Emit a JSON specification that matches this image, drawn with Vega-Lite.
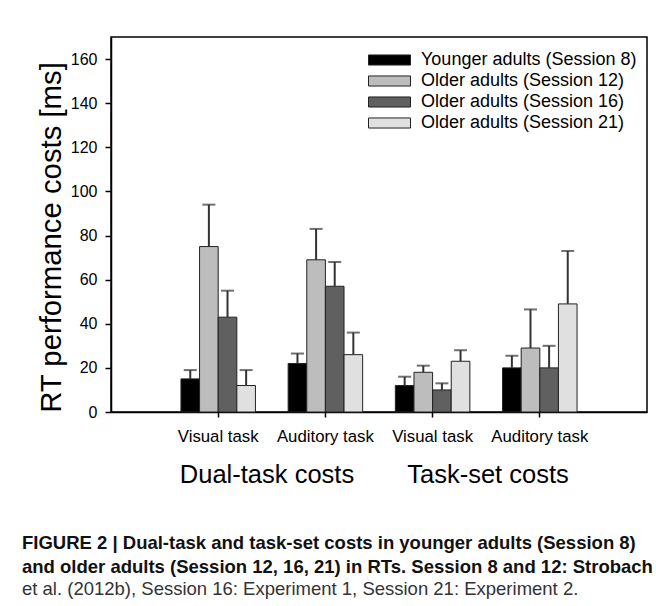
{
  "$schema": "https://vega.github.io/schema/vega-lite/v6.json",
  "width": 536,
  "height": 375,
  "autosize": {"type": "none"},
  "padding": {"left": 111, "top": 37, "right": 9, "bottom": 194},
  "background": "white",
  "config": {
    "font": "Liberation Sans",
    "view": {"stroke": "#000", "strokeWidth": 1.5},
    "axis": {"grid": false, "domainColor": "#000", "tickColor": "#000", "labelColor": "#000", "titleColor": "#000", "domainWidth": 1.5, "tickWidth": 1.5}
  },
  "title": {
    "text": ["FIGURE 2 | Dual-task and task-set costs in younger adults (Session 8)", "and older adults (Session 12, 16, 21) in RTs. Session 8 and 12: Strobach"],
    "subtitle": "et al. (2012b), Session 16: Experiment 1, Session 21: Experiment 2.",
    "orient": "bottom", "anchor": "start", "frame": "group", "dx": -89, "offset": 46,
    "fontSize": 18.5, "fontWeight": "bold", "color": "#111", "lineHeight": 24,
    "subtitleFontSize": 18.5, "subtitleColor": "#333", "subtitlePadding": 4, "subtitleLineHeight": 24, "subtitleFont": "Liberation Sans"
  },
  "layer": [
    {
      "data": {"values": [
        {"task": "DV", "series": "Younger adults (Session 8)", "mean": 15, "upper": 19},
        {"task": "DV", "series": "Older adults (Session 12)", "mean": 75, "upper": 94},
        {"task": "DV", "series": "Older adults (Session 16)", "mean": 43, "upper": 55},
        {"task": "DV", "series": "Older adults (Session 21)", "mean": 12, "upper": 19},
        {"task": "DA", "series": "Younger adults (Session 8)", "mean": 22, "upper": 26.5},
        {"task": "DA", "series": "Older adults (Session 12)", "mean": 69, "upper": 83},
        {"task": "DA", "series": "Older adults (Session 16)", "mean": 57, "upper": 68},
        {"task": "DA", "series": "Older adults (Session 21)", "mean": 26, "upper": 36},
        {"task": "TV", "series": "Younger adults (Session 8)", "mean": 12, "upper": 16},
        {"task": "TV", "series": "Older adults (Session 12)", "mean": 18, "upper": 21},
        {"task": "TV", "series": "Older adults (Session 16)", "mean": 10, "upper": 13},
        {"task": "TV", "series": "Older adults (Session 21)", "mean": 23, "upper": 28},
        {"task": "TA", "series": "Younger adults (Session 8)", "mean": 20, "upper": 25.5},
        {"task": "TA", "series": "Older adults (Session 12)", "mean": 29, "upper": 46.5},
        {"task": "TA", "series": "Older adults (Session 16)", "mean": 20, "upper": 30},
        {"task": "TA", "series": "Older adults (Session 21)", "mean": 49, "upper": 73}
      ]},
      "encoding": {
        "x": {
          "field": "task", "type": "nominal", "sort": ["DV", "DA", "TV", "TA"],
          "scale": {"domain": ["DV", "DA", "TV", "TA"], "paddingInner": 0.305, "paddingOuter": 0.6525},
          "axis": {
            "title": null, "labelAngle": 0, "labelFontSize": 16.8, "labelPadding": 11, "tickSize": 5,
            "labelExpr": "datum.value == 'DV' || datum.value == 'TV' ? 'Visual task' : 'Auditory task'"
          }
        },
        "xOffset": {
          "field": "series", "type": "nominal",
          "sort": ["Younger adults (Session 8)", "Older adults (Session 12)", "Older adults (Session 16)", "Older adults (Session 21)"],
          "scale": {"paddingInner": 0, "paddingOuter": 0}
        }
      },
      "layer": [
        {
          "mark": {"type": "bar", "stroke": "#222", "strokeWidth": 1},
          "encoding": {
            "y": {
              "field": "mean", "type": "quantitative",
              "scale": {"domain": [0, 170], "nice": false},
              "axis": {
                "title": "RT performance costs [ms]", "titleFontSize": 29.3, "titleFontWeight": "normal", "titlePadding": 4, "titleY": 200,
                "values": [0, 20, 40, 60, 80, 100, 120, 140, 160], "labelFontSize": 16, "tickSize": 6, "labelPadding": 8
              }
            },
            "color": {
              "field": "series", "type": "nominal",
              "scale": {
                "domain": ["Younger adults (Session 8)", "Older adults (Session 12)", "Older adults (Session 16)", "Older adults (Session 21)"],
                "range": ["#000000", "#bdbdbd", "#606060", "#e0e0e0"]
              },
              "legend": {
                "title": null, "orient": "none", "legendX": 267.5, "legendY": 12,
                "symbolType": "M-2,-0.48H2V0.48H-2Z", "symbolSize": 441,
                "symbolStrokeColor": "#222", "symbolStrokeWidth": 1, "symbolOpacity": 1,
                "labelFontSize": 18, "labelColor": "#000", "labelOffset": 20.5, "rowPadding": 1, "labelLimit": 400
              }
            }
          }
        },
        {
          "mark": {"type": "rule", "color": "#333", "strokeWidth": 2},
          "encoding": {
            "y": {"field": "mean", "type": "quantitative"},
            "y2": {"field": "upper"}
          }
        },
        {
          "mark": {"type": "tick", "color": "#333", "thickness": 2, "size": 13, "orient": "horizontal"},
          "encoding": {
            "y": {"field": "upper", "type": "quantitative"}
          }
        }
      ]
    },
    {
      "data": {"values": [{"group": "Dual-task costs"}, {"group": "Task-set costs"}]},
      "mark": {"type": "point", "opacity": 0},
      "encoding": {
        "x": {
          "field": "group", "type": "nominal",
          "scale": {"type": "point", "padding": 0, "range": [155.5, 376.5]},
          "axis": {"title": null, "orient": "bottom", "offset": 50, "domain": false, "ticks": false, "tickSize": 0, "labelPadding": 0, "labelAngle": 0, "labelFontSize": 25.5, "labelColor": "#000"}
        }
      }
    }
  ],
  "resolve": {"scale": {"x": "independent"}, "axis": {"x": "independent"}}
}
